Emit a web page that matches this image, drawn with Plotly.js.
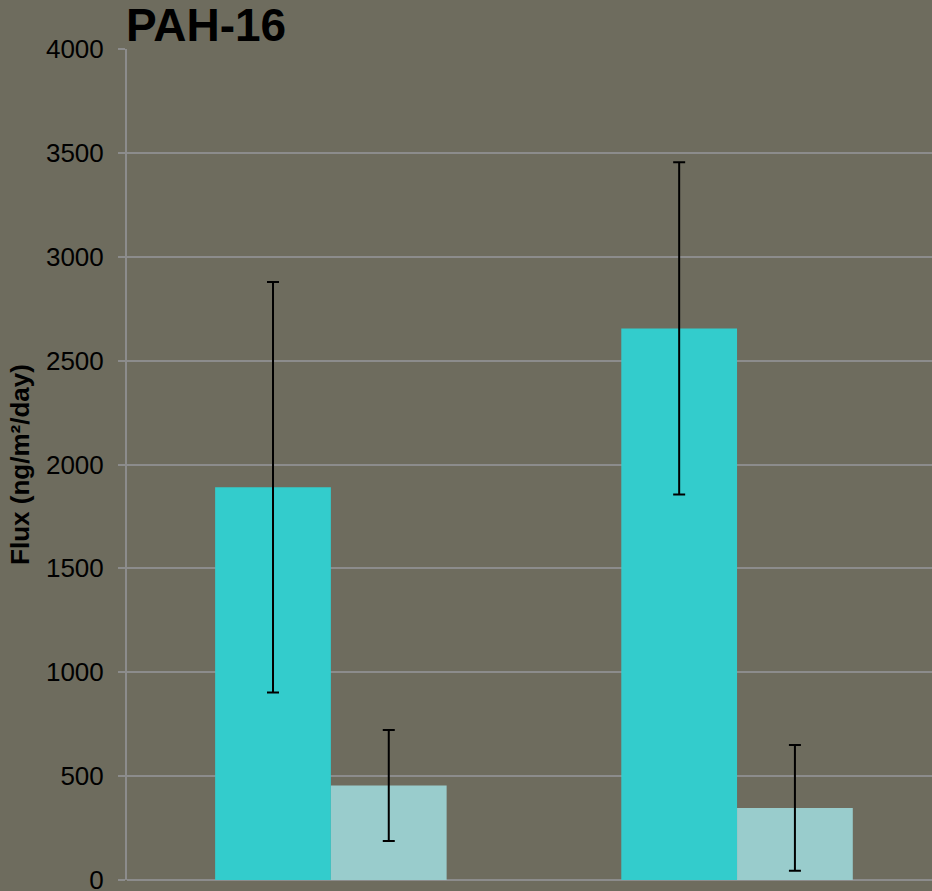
<!DOCTYPE html>
<html>
<head>
<meta charset="utf-8">
<script src="https://cdn.plot.ly/plotly-3.0.1.min.js"></script>
<style>html,body{margin:0;padding:0;background:#6e6c5e;}</style>
</head>
<body>
<div id="chart" style="width:932px;height:891px;"></div>
<script>
const categories = ["Group 1", "Group 2"];
const series1Name = "Series 1";
const series1Values = [1890, 2655];
const series1Errors = [988, 800];
const series2Name = "Series 2";
const series2Values = [455, 347];
const series2Errors = [267, 303];
const yTicks = [0, 500, 1000, 1500, 2000, 2500, 3000, 3500, 4000];

const errStyle = {type: 'data', visible: true, color: '#000000', thickness: 2, width: 6};

const traces = [
  {type: 'bar', name: series1Name, x: categories, y: series1Values,
   marker: {color: '#33CCCC', line: {width: 0}},
   error_y: Object.assign({array: series1Errors}, errStyle)},
  {type: 'bar', name: series2Name, x: categories, y: series2Values,
   marker: {color: '#99CCCC', line: {width: 0}},
   error_y: Object.assign({array: series2Errors}, errStyle)}
];

const layout = {
  width: 932, height: 891,
  paper_bgcolor: '#6e6c5e', plot_bgcolor: '#6e6c5e',
  margin: {l: 127, r: 0, t: 49, b: 11, pad: 0},
  showlegend: false,
  barmode: 'group', bargap: 0.43, bargroupgap: 0,
  font: {family: 'Liberation Sans, Arial, sans-serif', color: '#000000'},
  title: {text: '<b>PAH-16</b>', font: {size: 46, color: '#000000'},
          x: 126/932, xanchor: 'left', xref: 'container', y: 1 - 41/891, yanchor: 'bottom', yref: 'container'},
  xaxis: {type: 'category', range: [-0.502, 1.48], showticklabels: false, ticks: '',
          showline: false, showgrid: false, zeroline: false, fixedrange: true},
  yaxis: {range: [0, 4000], tickvals: yTicks, ticktext: yTicks.map(String),
          ticks: 'outside', ticklen: 7, tickwidth: 2, tickcolor: '#8c8c8c',
          ticklabeloverflow: 'allow', ticklabelstandoff: 9,
          showline: true, linecolor: '#8c8c8c', linewidth: 2,
          showgrid: true, gridcolor: '#8c8c8c', gridwidth: 2,
          zeroline: true, zerolinecolor: '#8c8c8c', zerolinewidth: 2,
          tickfont: {size: 26, color: '#000000'},
          title: {text: '<b>Flux (ng/m²/day)</b>', font: {size: 26, color: '#000000'}, standoff: 9}}
};

Plotly.newPlot('chart', traces, layout, {displayModeBar: false, staticPlot: true});
</script>
</body>
</html>
